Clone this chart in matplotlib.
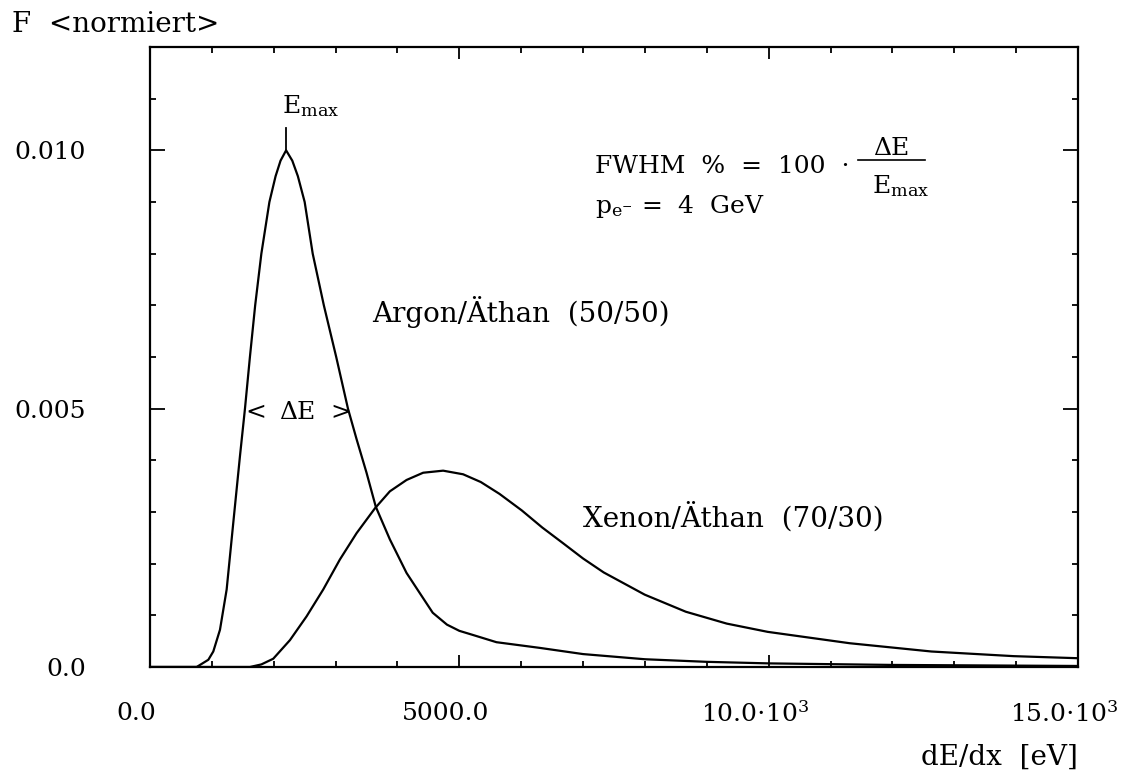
import matplotlib
matplotlib.use("Agg")
import matplotlib.pyplot as plt
from matplotlib.ticker import MultipleLocator, FixedLocator, FixedFormatter
import matplotlib.transforms as mtransforms

# ---------------- data ----------------
argon_x = [0, 754, 943, 1023, 1131, 1239, 1346, 1454, 1535, 1615, 1700, 1800,
           1930, 2030, 2110, 2200, 2300, 2390, 2500, 2630, 2810, 3010, 3200,
           3339, 3500, 3650, 3877, 4147, 4350, 4570, 4800, 5000, 5220, 5600,
           6300, 7000, 8000, 9000, 10000, 12000, 15000]
argon_y = [0.0, 0.0, 0.00014, 0.0003, 0.00072, 0.0015, 0.00279, 0.00408,
           0.005, 0.006, 0.007, 0.008, 0.009, 0.0095, 0.0098, 0.0100, 0.0098,
           0.0095, 0.009, 0.008, 0.007, 0.006, 0.005, 0.00441, 0.00376,
           0.0031, 0.00247, 0.00182, 0.00145, 0.00105, 0.00082, 0.0007,
           0.00062, 0.00048, 0.00037, 0.00025, 0.00015, 0.0001, 0.00007,
           0.00004, 0.00002]

xenon_x = [0, 1615, 1800, 1992, 2262, 2531, 2800, 3069, 3339, 3635, 3877,
           4147, 4415, 4738, 5061, 5347, 5650, 6010, 6340, 6672, 7000, 7334,
           7997, 8660, 9322, 9985, 11310, 12630, 13960, 15000]
xenon_y = [0.0, 0.0, 0.00005, 0.00016, 0.00052, 0.00098, 0.0015, 0.00208,
           0.00259, 0.00307, 0.0034, 0.00362, 0.00376, 0.0038, 0.00373,
           0.00358, 0.00335, 0.00303, 0.0027, 0.0024, 0.0021, 0.00183,
           0.0014, 0.00107, 0.00084, 0.00068, 0.00046, 0.0003, 0.00021,
           0.00017]

x_ticks = [0, 5000, 10000, 15000]
x_tick_labels = ["0.0", "5000.0", r"10.0$\cdot$10$^{3}$", r"15.0$\cdot$10$^{3}$"]
y_ticks = [0.0, 0.005, 0.010]
y_tick_labels = ["0.0", "0.005", "0.010"]

argon_label = "Argon/Äthan  (50/50)"
xenon_label = "Xenon/Äthan  (70/30)"

# ---------------- styling ----------------
plt.rcParams['font.family'] = ['DejaVu Serif', 'DejaVu Sans']
plt.rcParams['mathtext.fontset'] = 'dejavuserif'
FS = 18

fig = plt.figure(figsize=(11.28, 7.73), dpi=100)
ax = fig.add_axes([150/1128, 1-667/773, (1078-150)/1128, (667-47)/773])

ax.plot(argon_x, argon_y, color='black', lw=1.6, solid_joinstyle='round')
ax.plot(xenon_x, xenon_y, color='black', lw=1.6, solid_joinstyle='round')

ax.set_xlim(0, 15000)
ax.set_ylim(0, 0.012)

for s in ax.spines.values():
    s.set_linewidth(1.6)

ax.xaxis.set_major_locator(FixedLocator(x_ticks))
ax.xaxis.set_major_formatter(FixedFormatter(x_tick_labels))
ax.xaxis.set_minor_locator(MultipleLocator(1000))
ax.yaxis.set_major_locator(FixedLocator(y_ticks))
ax.yaxis.set_major_formatter(FixedFormatter(y_tick_labels))
ax.yaxis.set_minor_locator(MultipleLocator(0.001))

ax.tick_params(axis='both', which='both', direction='in', top=True, right=True,
               width=1.3, labelsize=FS)
ax.tick_params(axis='x', which='major', length=8.5, pad=25)
ax.tick_params(axis='x', which='minor', length=4.5)
ax.tick_params(axis='y', which='major', length=10.5, pad=46)
ax.tick_params(axis='y', which='minor', length=4.5)

offset = mtransforms.ScaledTranslation(-14/100, 0, fig.dpi_scale_trans)
for lab in ax.get_xticklabels():
    lab.set_transform(lab.get_transform() + offset)

# axis titles
fig.text(12/1128, 1-32/773, "F  <normiert>", fontsize=20, ha='left', va='baseline')
fig.text(1078/1128, 1-765/773, "dE/dx  [eV]", fontsize=20, ha='right', va='baseline')

# annotations
ax.plot([2200, 2200], [0.0100, 0.01043], color='black', lw=1.3)
ax.text(2132, 0.01072, r"$\mathrm{E}_{\mathrm{max}}$", fontsize=FS, ha='left', va='baseline')

ax.text(7189, 0.00957, "FWHM  %  =  100  ·", fontsize=FS, ha='left', va='baseline')
ax.text(11987, 0.0099, "ΔE", fontsize=FS, ha='center', va='baseline')
ax.plot([11438, 12520], [0.009806, 0.009806], color='black', lw=1.2)
ax.text(11664, 0.009165, r"$\mathrm{E}_{\mathrm{max}}$", fontsize=FS, ha='left', va='baseline')
ax.text(7189, 0.00878, r"$\mathrm{p}_{\mathrm{e}^{-}}$ =  4  GeV", fontsize=FS,
        ha='left', va='baseline')

ax.text(3586, 0.00668, argon_label, fontsize=20, ha='left', va='baseline')
ax.text(6995, 0.002718, xenon_label, fontsize=20, ha='left', va='baseline')

ax.text(1712, 0.0048, "<", fontsize=FS, ha='center', va='baseline')
ax.text(2375, 0.0048, "ΔE", fontsize=FS, ha='center', va='baseline')
ax.text(3085, 0.0048, ">", fontsize=FS, ha='center', va='baseline')

fig.savefig("out.png", dpi=100)
